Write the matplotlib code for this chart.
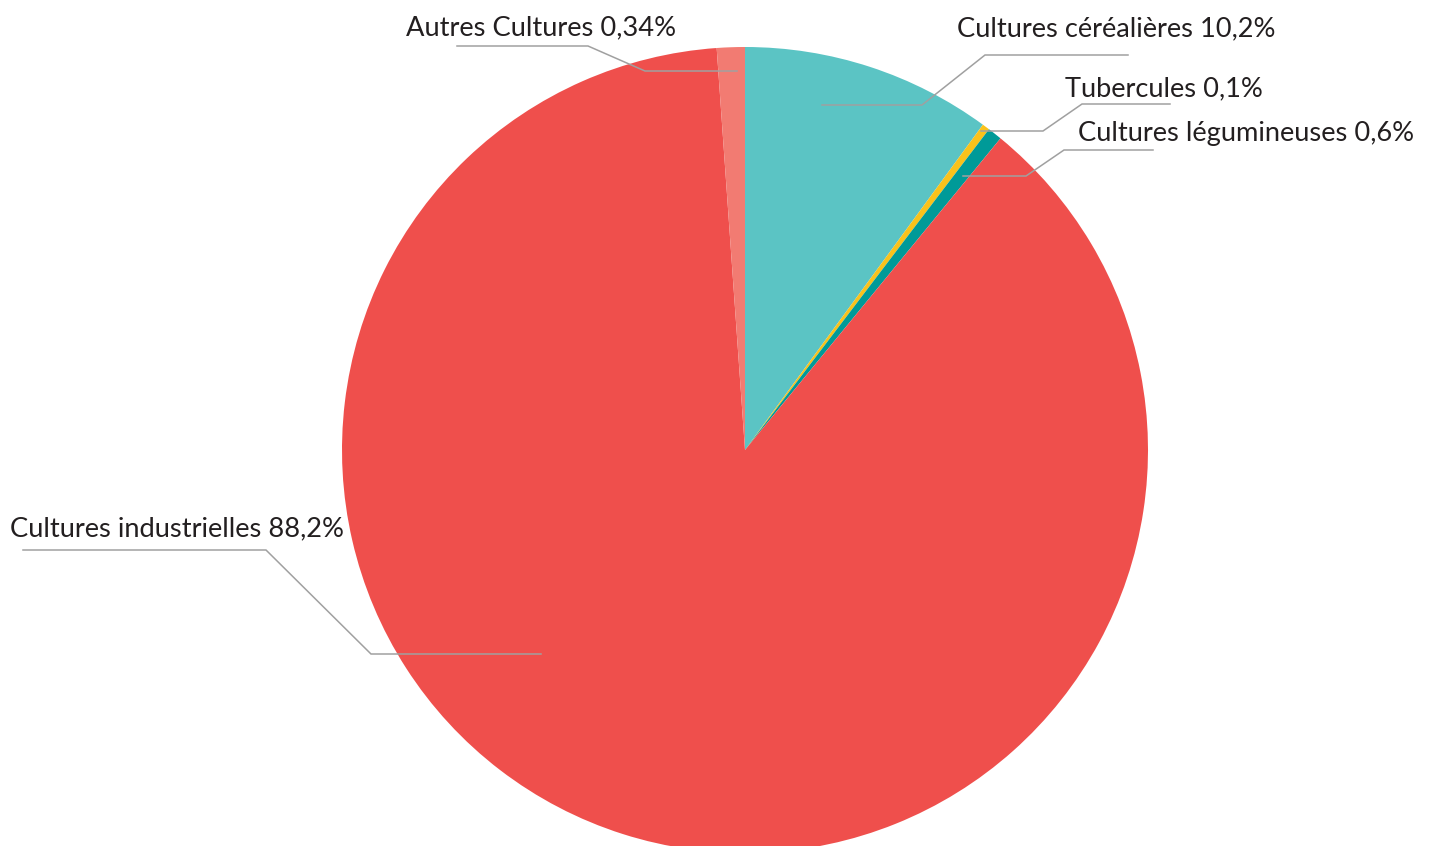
import matplotlib
matplotlib.use("Agg")
import matplotlib.pyplot as plt

# Data (slice sizes, clockwise from 12 o'clock)
categories = ["Cultures céréalières", "Tubercules", "Cultures légumineuses",
              "Cultures industrielles", "Autres Cultures"]
values = [10.05, 0.3, 0.58, 87.95, 1.12]
label_pcts = ["10,2%", "0,1%", "0,6%", "88,2%", "0,34%"]
colors = ["#5BC4C4", "#F9C21B", "#009A98", "#EF4F4C", "#F27B72"]

W, H = 1440, 846
fig = plt.figure(figsize=(W / 100, H / 100), dpi=100)
ax = fig.add_axes([0, 0, 1, 1])

cx, cy, r = 745, H - 450, 403
ax.pie(values, colors=colors, startangle=90, counterclock=False,
       center=(cx, cy), radius=r, frame=True,
       wedgeprops=dict(linewidth=0))
ax.set_xlim(0, W)
ax.set_ylim(0, H)
ax.set_aspect("equal")
ax.axis("off")

# label anchor positions (pixel coords, top-left origin) and leader polylines
label_pos = {
    "Cultures céréalières": (957, 36),
    "Tubercules": (1065, 96),
    "Cultures légumineuses": (1078, 141),
    "Cultures industrielles": (10, 536),
    "Autres Cultures": (406, 35),
}
leaders = {
    "Cultures céréalières": [(1128, 55), (985, 55), (922, 105), (822, 105)],
    "Tubercules": [(1170, 104), (1082, 104), (1043, 131), (981, 131)],
    "Cultures légumineuses": [(1153, 150), (1064, 150), (1026, 176), (963, 176)],
    "Cultures industrielles": [(23, 550), (266, 550), (371, 654), (541, 654)],
    "Autres Cultures": [(457, 46), (588, 46), (645, 71), (737, 71)],
}

for cat, pct in zip(categories, label_pcts):
    pts = leaders[cat]
    ax.plot([p[0] for p in pts], [H - p[1] for p in pts],
            color="#A0A0A0", lw=1.1, solid_joinstyle="miter")
    x, y = label_pos[cat]
    ax.text(x, H - y, f"{cat} {pct}", ha="left", va="baseline",
            fontsize=19.6, color="#231F20", family=["Lato", "DejaVu Sans"])

fig.savefig("out.png", dpi=100)
